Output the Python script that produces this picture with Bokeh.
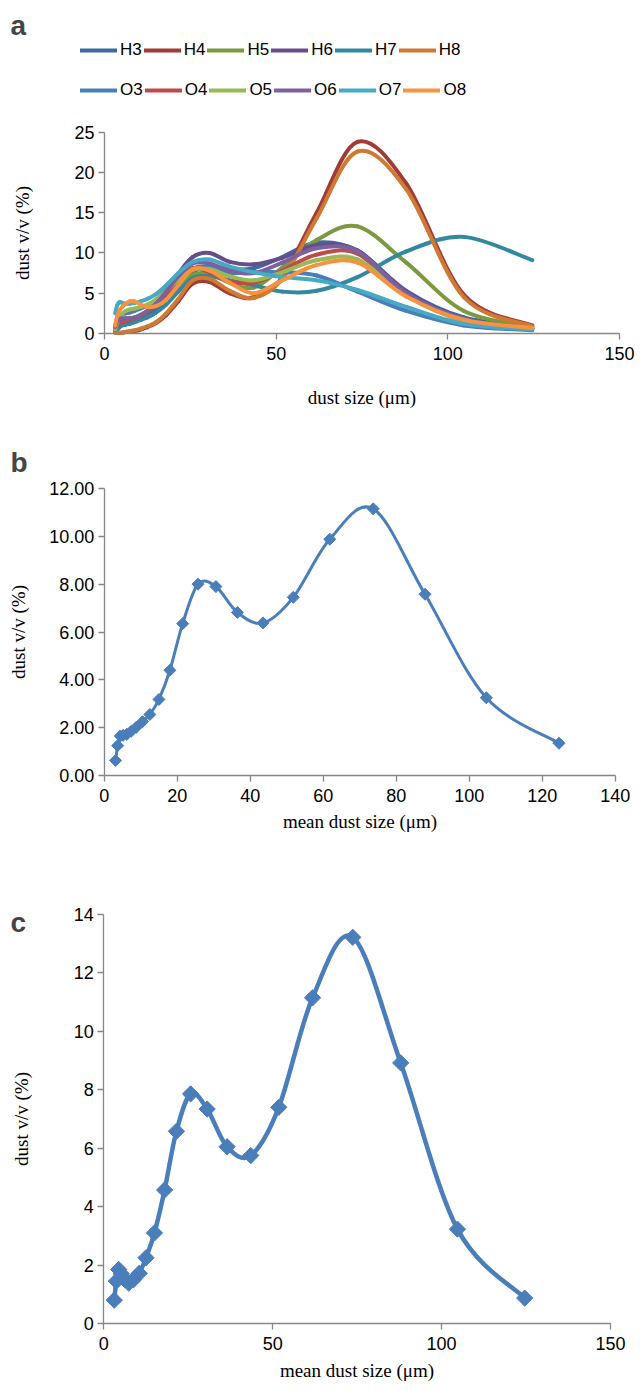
import numpy as np
from bokeh.plotting import figure
from bokeh.layouts import column
from bokeh.models import (Range1d, FixedTicker, Legend, LegendItem, Label,
                          NumeralTickFormatter, LinearAxis)
from bokeh.embed import file_html
from bokeh.resources import INLINE

# ---------------- data ----------------
size_bins = [3.1, 3.7, 4.4, 5.2, 6.2, 7.4, 8.8, 10.5, 12.5, 15.0, 18.0, 21.5,
             25.7, 30.6, 36.5, 43.5, 51.8, 61.8, 73.7, 87.9, 104.7, 124.6]

H3 = [0.4, 0.8, 1.1, 1.2, 1.3, 1.4, 1.6, 1.9, 2.3, 3.0, 4.2, 5.9, 7.6, 8.4, 8.0, 8.1, 9.5, 11.3, 10.3, 5.3, 2.0, 0.8]
H4 = [0.1, 0.1, 0.1, 0.1, 0.2, 0.2, 0.3, 0.5, 0.8, 1.3, 2.3, 4.0, 6.2, 6.4, 5.0, 4.5, 7.0, 15.0, 23.8, 18.6, 4.8, 1.0]
H5 = [0.3, 0.8, 1.3, 1.6, 1.8, 1.9, 2.0, 2.3, 2.8, 3.5, 4.6, 6.0, 7.3, 7.4, 6.3, 5.7, 8.2, 11.6, 13.3, 8.8, 2.8, 0.8]
H6 = [0.6, 1.2, 1.6, 1.8, 1.8, 1.8, 1.9, 2.2, 2.7, 3.6, 5.2, 7.4, 9.5, 10.0, 8.9, 8.6, 9.4, 11.0, 10.3, 5.2, 1.8, 0.6]
H7 = [0.3, 0.5, 0.8, 1.0, 1.1, 1.2, 1.4, 1.7, 2.0, 2.6, 3.6, 5.2, 6.9, 7.1, 6.6, 6.0, 5.2, 5.3, 7.0, 10.2, 12.0, 9.1]
H8 = [0.1, 0.1, 0.1, 0.1, 0.2, 0.3, 0.4, 0.6, 0.9, 1.4, 2.5, 4.3, 6.6, 6.8, 5.3, 4.4, 6.8, 14.3, 22.6, 17.9, 4.5, 0.9]
O3 = [1.0, 1.7, 2.2, 2.4, 2.5, 2.6, 2.8, 3.1, 3.5, 4.2, 5.4, 6.8, 8.1, 8.3, 7.5, 7.6, 7.6, 7.2, 5.2, 2.8, 1.0, 0.4]
O4 = [0.4, 0.9, 1.3, 1.5, 1.6, 1.7, 1.9, 2.2, 2.7, 3.5, 4.9, 6.6, 8.1, 7.6, 6.5, 6.3, 7.8, 9.8, 9.9, 4.8, 1.6, 0.6]
O5 = [0.5, 1.3, 2.0, 2.5, 2.8, 3.0, 3.1, 3.3, 3.6, 4.2, 5.3, 6.7, 7.9, 8.0, 7.1, 6.6, 7.6, 9.1, 9.2, 4.7, 1.6, 0.6]
O6 = [0.8, 1.5, 1.8, 1.9, 1.9, 1.9, 2.0, 2.3, 2.8, 3.7, 5.2, 7.1, 8.7, 8.7, 7.8, 7.5, 8.8, 10.6, 10.2, 5.0, 1.8, 0.6]
O7 = [2.5, 3.5, 3.9, 3.8, 3.7, 3.7, 3.8, 4.0, 4.3, 4.9, 6.0, 7.5, 8.9, 9.2, 8.3, 7.6, 7.0, 6.6, 5.4, 3.3, 1.2, 0.5]
O8 = [1.0, 2.2, 2.9, 3.3, 3.7, 4.0, 4.0, 3.6, 3.3, 3.4, 4.2, 6.0, 8.0, 7.8, 6.3, 5.0, 6.6, 8.5, 8.8, 4.6, 1.7, 0.7]

series_names = ["H3", "H4", "H5", "H6", "H7", "H8", "O3", "O4", "O5", "O6", "O7", "O8"]
series_values = [H3, H4, H5, H6, H7, H8, O3, O4, O5, O6, O7, O8]
series_colors = ["#3D69A5", "#A13B38", "#7B993E", "#654F8B", "#31889F", "#CF7A32",
                 "#4A7EBB", "#BE4B48", "#98B954", "#7D60A0", "#46AAC5", "#F69240"]

mean_b = [0.63, 1.25, 1.65, 1.68, 1.72, 1.85, 2.02, 2.25, 2.55, 3.18, 4.40, 6.35,
          8.00, 7.90, 6.82, 6.38, 7.45, 9.88, 11.15, 7.58, 3.25, 1.35]
mean_c = [0.80, 1.45, 1.85, 1.70, 1.50, 1.38, 1.50, 1.72, 2.25, 3.10, 4.57, 6.58,
          7.86, 7.34, 6.05, 5.75, 7.40, 11.15, 13.22, 8.92, 3.23, 0.87]

a_xticks = [0, 50, 100, 150]
a_yticks = [0, 5, 10, 15, 20, 25]
b_xticks = [0, 20, 40, 60, 80, 100, 120, 140]
b_yticks = [0, 2, 4, 6, 8, 10, 12]
c_xticks = [0, 50, 100, 150]
c_yticks = [0, 2, 4, 6, 8, 10, 12, 14]

BLUE = "#4A7EBB"
AXIS = "#868686"
W = 635


def smooth_segments(xs, ys):
    """Bezier control points for a smoothed line through the points."""
    n = len(xs)
    d = dict(x0=[], y0=[], x1=[], y1=[], cx0=[], cy0=[], cx1=[], cy1=[])
    for i in range(n - 1):
        im1 = max(i - 1, 0)
        ip2 = min(i + 2, n - 1)
        d["x0"].append(xs[i]); d["y0"].append(ys[i])
        d["x1"].append(xs[i + 1]); d["y1"].append(ys[i + 1])
        d["cx0"].append(xs[i] + (xs[i + 1] - xs[im1]) / 6.0)
        d["cy0"].append(ys[i] + (ys[i + 1] - ys[im1]) / 6.0)
        d["cx1"].append(xs[i + 1] - (xs[ip2] - xs[i]) / 6.0)
        d["cy1"].append(ys[i + 1] - (ys[ip2] - ys[i]) / 6.0)
    return d


def make_panel(height, ox, oy, xmax, xmax_px, ymax, ymax_px,
               xticks, yticks, xlabel, ylabel, xstand, ystand):
    # The frame covers the whole figure; both axes are drawn at data 0 inside it,
    # at pixel (ox, oy) measured from the figure's top-left corner.
    sx = (xmax_px - ox) / xmax
    sy = (oy - ymax_px) / ymax
    p = figure(width=W, height=height,
               x_range=Range1d(-ox / sx, (W - ox) / sx),
               y_range=Range1d(-(height - oy) / sy, oy / sy),
               output_backend="svg", toolbar_location=None,
               x_axis_location=None, y_axis_location=None,
               min_border_left=0, min_border_top=0, min_border_right=0, min_border_bottom=0)
    xax = LinearAxis(fixed_location=0, bounds=(0, xmax), ticker=FixedTicker(ticks=xticks))
    yax = LinearAxis(fixed_location=0, bounds=(0, ymax), ticker=FixedTicker(ticks=yticks))
    p.add_layout(xax, "below")
    p.add_layout(yax, "left")
    xax.axis_label = xlabel
    yax.axis_label = ylabel
    for ax in (xax, yax):
        ax.axis_line_color = AXIS
        ax.axis_line_width = 1.3
        ax.major_tick_line_color = AXIS
        ax.major_tick_line_width = 1.3
        ax.major_tick_in = 0
        ax.major_tick_out = 6
        ax.minor_tick_line_color = None
        ax.major_label_text_font = "Liberation Sans"
        ax.major_label_text_font_size = "18px"
        ax.major_label_text_color = "#000000"
        ax.axis_label_text_font = "Liberation Serif"
        ax.axis_label_text_font_size = "19px"
        ax.axis_label_text_font_style = "normal"
        ax.axis_label_text_color = "#000000"
    xax.major_label_standoff = 7
    yax.major_label_standoff = 4
    xax.axis_label_standoff = xstand
    yax.axis_label_standoff = ystand
    p.xgrid.visible = False
    p.ygrid.visible = False
    p.outline_line_color = None
    return p, xax, yax


def panel_letter(p, letter, x_px, y_px, height):
    p.add_layout(Label(x=x_px, y=height - y_px, x_units="screen", y_units="screen",
                       text=letter, text_font="Liberation Sans", text_font_size="28px",
                       text_font_style="bold", text_baseline="middle", text_align="left"))


# ---------------- panel a ----------------
HA = 423
pa, xa, ya = make_panel(HA, 104, 333, 150, 619, 25, 131.7,
                        a_xticks, a_yticks, "dust size (μm)", "dust v/v (%)", 24, 38)

items_h, items_o = [], []
for name, vals, col in zip(series_names, series_values, series_colors):
    pa.bezier(source=smooth_segments(size_bins, vals), x0="x0", y0="y0", x1="x1", y1="y1",
              cx0="cx0", cy0="cy0", cx1="cx1", cy1="cy1",
              line_color=col, line_width=4, line_cap="round")
    # off-range stand-in renderer used only for the legend swatch
    lr = pa.line(x=[-500, -499], y=[-500, -500], line_color=col, line_width=4, line_cap="round")
    (items_h if name.startswith("H") else items_o).append(LegendItem(label=name, renderers=[lr]))

for items, row_center in ((items_h, 50), (items_o, 90)):
    leg = Legend(items=items, orientation="horizontal", location=(80, HA - row_center - 10),
                 glyph_width=37, glyph_height=20, label_height=20, label_standoff=3,
                 spacing=2, padding=0, margin=0, border_line_color=None,
                 background_fill_alpha=0, label_text_font="Liberation Sans",
                 label_text_font_size="17px", label_text_color="#000000")
    pa.add_layout(leg, "center")
panel_letter(pa, "a", 10, 25, HA)

# ---------------- panel b ----------------
HB = 425
pb, xb, yb = make_panel(HB, 103.7, 352, 140, 614.7, 12, 65,
                        b_xticks, b_yticks, "mean dust size (μm)", "dust v/v (%)", 6, 17)
yb.formatter = NumeralTickFormatter(format="0.00")
pb.bezier(source=smooth_segments(size_bins, mean_b), x0="x0", y0="y0", x1="x1", y1="y1",
          cx0="cx0", cy0="cy0", cx1="cx1", cy1="cy1",
          line_color=BLUE, line_width=3, line_cap="round")
pb.scatter(size_bins, mean_b, marker="square", angle=np.pi / 4, size=8.5,
           fill_color=BLUE, line_color=BLUE)
panel_letter(pb, "b", 10, 39, HB)

# ---------------- panel c ----------------
HC = 535
pc, xc, yc = make_panel(HC, 103.3, 475, 150, 610, 14, 66,
                        c_xticks, c_yticks, "mean dust size (μm)", "dust v/v (%)", 7, 38)
pc.bezier(source=smooth_segments(size_bins, mean_c), x0="x0", y0="y0", x1="x1", y1="y1",
          cx0="cx0", cy0="cy0", cx1="cx1", cy1="cy1",
          line_color=BLUE, line_width=4.5, line_cap="round")
pc.scatter(size_bins, mean_c, marker="square", angle=np.pi / 4, size=11.5,
           fill_color=BLUE, line_color=BLUE)
panel_letter(pc, "c", 10, 74, HC)

layout = column(pa, pb, pc, spacing=0)
open("out.html", "w").write(file_html(layout, INLINE))
